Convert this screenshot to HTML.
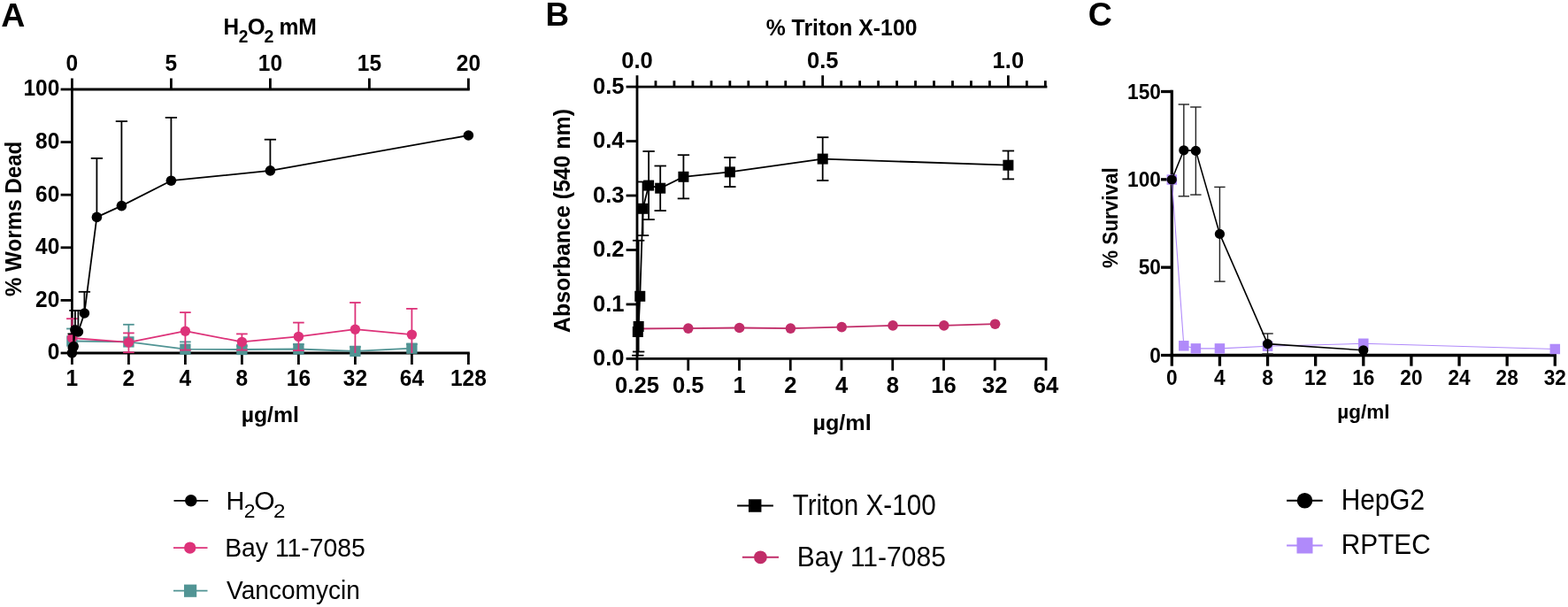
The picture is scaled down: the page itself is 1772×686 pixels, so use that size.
<!DOCTYPE html>
<html><head><meta charset="utf-8"><title>Figure</title>
<style>
html,body{margin:0;padding:0;background:#fff;}
svg{display:block;}
text{font-family:"Liberation Sans",Arial,Helvetica,sans-serif;fill:#000;}
</style></head>
<body>
<svg width="1772" height="686" viewBox="0 0 1772 686">
<rect width="1772" height="686" fill="#fff"/>
<line x1="81.40" y1="101.00" x2="81.40" y2="399.00" stroke="#000" stroke-width="2.8" stroke-linecap="butt"/>
<line x1="80.00" y1="101.00" x2="530.80" y2="101.00" stroke="#000" stroke-width="2.8" stroke-linecap="butt"/>
<line x1="80.00" y1="399.00" x2="530.80" y2="399.00" stroke="#000" stroke-width="2.8" stroke-linecap="butt"/>
<line x1="68.60" y1="399.00" x2="81.40" y2="399.00" stroke="#000" stroke-width="2.8" stroke-linecap="butt"/>
<text transform="translate(67.30,406.30) scale(0.9240,1)" font-size="26.5" font-weight="bold" text-anchor="end">0</text>
<line x1="68.60" y1="339.40" x2="81.40" y2="339.40" stroke="#000" stroke-width="2.8" stroke-linecap="butt"/>
<text transform="translate(67.30,346.70) scale(0.9240,1)" font-size="26.5" font-weight="bold" text-anchor="end">20</text>
<line x1="68.60" y1="279.80" x2="81.40" y2="279.80" stroke="#000" stroke-width="2.8" stroke-linecap="butt"/>
<text transform="translate(67.30,287.10) scale(0.9240,1)" font-size="26.5" font-weight="bold" text-anchor="end">40</text>
<line x1="68.60" y1="220.20" x2="81.40" y2="220.20" stroke="#000" stroke-width="2.8" stroke-linecap="butt"/>
<text transform="translate(67.30,227.50) scale(0.9240,1)" font-size="26.5" font-weight="bold" text-anchor="end">60</text>
<line x1="68.60" y1="160.60" x2="81.40" y2="160.60" stroke="#000" stroke-width="2.8" stroke-linecap="butt"/>
<text transform="translate(67.30,167.90) scale(0.9240,1)" font-size="26.5" font-weight="bold" text-anchor="end">80</text>
<line x1="68.60" y1="101.00" x2="81.40" y2="101.00" stroke="#000" stroke-width="2.8" stroke-linecap="butt"/>
<text transform="translate(67.30,108.30) scale(0.9240,1)" font-size="26.5" font-weight="bold" text-anchor="end">100</text>
<line x1="81.40" y1="88.50" x2="81.40" y2="101.00" stroke="#000" stroke-width="2.8" stroke-linecap="butt"/>
<text transform="translate(81.40,80.20) scale(0.9240,1)" font-size="26.5" font-weight="bold" text-anchor="middle">0</text>
<line x1="193.40" y1="88.50" x2="193.40" y2="101.00" stroke="#000" stroke-width="2.8" stroke-linecap="butt"/>
<text transform="translate(193.40,80.20) scale(0.9240,1)" font-size="26.5" font-weight="bold" text-anchor="middle">5</text>
<line x1="305.40" y1="88.50" x2="305.40" y2="101.00" stroke="#000" stroke-width="2.8" stroke-linecap="butt"/>
<text transform="translate(305.40,80.20) scale(0.9240,1)" font-size="26.5" font-weight="bold" text-anchor="middle">10</text>
<line x1="417.40" y1="88.50" x2="417.40" y2="101.00" stroke="#000" stroke-width="2.8" stroke-linecap="butt"/>
<text transform="translate(417.40,80.20) scale(0.9240,1)" font-size="26.5" font-weight="bold" text-anchor="middle">15</text>
<line x1="529.40" y1="88.50" x2="529.40" y2="101.00" stroke="#000" stroke-width="2.8" stroke-linecap="butt"/>
<text transform="translate(529.40,80.20) scale(0.9240,1)" font-size="26.5" font-weight="bold" text-anchor="middle">20</text>
<line x1="81.40" y1="399.00" x2="81.40" y2="412.00" stroke="#000" stroke-width="2.8" stroke-linecap="butt"/>
<text transform="translate(81.40,436.20) scale(0.9240,1)" font-size="26.5" font-weight="bold" text-anchor="middle">1</text>
<line x1="145.40" y1="399.00" x2="145.40" y2="412.00" stroke="#000" stroke-width="2.8" stroke-linecap="butt"/>
<text transform="translate(145.40,436.20) scale(0.9240,1)" font-size="26.5" font-weight="bold" text-anchor="middle">2</text>
<line x1="209.40" y1="399.00" x2="209.40" y2="412.00" stroke="#000" stroke-width="2.8" stroke-linecap="butt"/>
<text transform="translate(209.40,436.20) scale(0.9240,1)" font-size="26.5" font-weight="bold" text-anchor="middle">4</text>
<line x1="273.40" y1="399.00" x2="273.40" y2="412.00" stroke="#000" stroke-width="2.8" stroke-linecap="butt"/>
<text transform="translate(273.40,436.20) scale(0.9240,1)" font-size="26.5" font-weight="bold" text-anchor="middle">8</text>
<line x1="337.40" y1="399.00" x2="337.40" y2="412.00" stroke="#000" stroke-width="2.8" stroke-linecap="butt"/>
<text transform="translate(337.40,436.20) scale(0.9240,1)" font-size="26.5" font-weight="bold" text-anchor="middle">16</text>
<line x1="401.40" y1="399.00" x2="401.40" y2="412.00" stroke="#000" stroke-width="2.8" stroke-linecap="butt"/>
<text transform="translate(401.40,436.20) scale(0.9240,1)" font-size="26.5" font-weight="bold" text-anchor="middle">32</text>
<line x1="465.40" y1="399.00" x2="465.40" y2="412.00" stroke="#000" stroke-width="2.8" stroke-linecap="butt"/>
<text transform="translate(465.40,436.20) scale(0.9240,1)" font-size="26.5" font-weight="bold" text-anchor="middle">64</text>
<line x1="529.40" y1="399.00" x2="529.40" y2="412.00" stroke="#000" stroke-width="2.8" stroke-linecap="butt"/>
<text transform="translate(529.40,436.20) scale(0.9240,1)" font-size="26.5" font-weight="bold" text-anchor="middle">128</text>
<text transform="translate(305.30,477.00) scale(1.0350,1)" font-size="24" font-weight="bold" text-anchor="middle">µg/ml</text>
<text transform="translate(23.80,335.10) rotate(-90) scale(0.9674,1)" font-size="25.0" font-weight="bold">% Worms Dead</text>
<line x1="720.00" y1="98.10" x2="720.00" y2="405.40" stroke="#000" stroke-width="2.8" stroke-linecap="butt"/>
<line x1="718.60" y1="98.10" x2="1183.40" y2="98.10" stroke="#000" stroke-width="2.8" stroke-linecap="butt"/>
<line x1="718.60" y1="405.40" x2="1183.40" y2="405.40" stroke="#000" stroke-width="2.8" stroke-linecap="butt"/>
<line x1="707.60" y1="405.40" x2="720.00" y2="405.40" stroke="#000" stroke-width="2.8" stroke-linecap="butt"/>
<text transform="translate(705.50,413.30) scale(0.9840,1)" font-size="26.0" font-weight="bold" text-anchor="end">0.0</text>
<line x1="707.60" y1="343.94" x2="720.00" y2="343.94" stroke="#000" stroke-width="2.8" stroke-linecap="butt"/>
<text transform="translate(705.50,351.84) scale(0.9840,1)" font-size="26.0" font-weight="bold" text-anchor="end">0.1</text>
<line x1="707.60" y1="282.48" x2="720.00" y2="282.48" stroke="#000" stroke-width="2.8" stroke-linecap="butt"/>
<text transform="translate(705.50,290.38) scale(0.9840,1)" font-size="26.0" font-weight="bold" text-anchor="end">0.2</text>
<line x1="707.60" y1="221.02" x2="720.00" y2="221.02" stroke="#000" stroke-width="2.8" stroke-linecap="butt"/>
<text transform="translate(705.50,228.92) scale(0.9840,1)" font-size="26.0" font-weight="bold" text-anchor="end">0.3</text>
<line x1="707.60" y1="159.56" x2="720.00" y2="159.56" stroke="#000" stroke-width="2.8" stroke-linecap="butt"/>
<text transform="translate(705.50,167.46) scale(0.9840,1)" font-size="26.0" font-weight="bold" text-anchor="end">0.4</text>
<line x1="707.60" y1="98.10" x2="720.00" y2="98.10" stroke="#000" stroke-width="2.8" stroke-linecap="butt"/>
<text transform="translate(705.50,106.00) scale(0.9840,1)" font-size="26.0" font-weight="bold" text-anchor="end">0.5</text>
<line x1="720.00" y1="85.20" x2="720.00" y2="98.10" stroke="#000" stroke-width="2.8" stroke-linecap="butt"/>
<line x1="740.97" y1="91.20" x2="740.97" y2="98.10" stroke="#000" stroke-width="2.8" stroke-linecap="butt"/>
<line x1="761.94" y1="91.20" x2="761.94" y2="98.10" stroke="#000" stroke-width="2.8" stroke-linecap="butt"/>
<line x1="782.91" y1="91.20" x2="782.91" y2="98.10" stroke="#000" stroke-width="2.8" stroke-linecap="butt"/>
<line x1="803.88" y1="91.20" x2="803.88" y2="98.10" stroke="#000" stroke-width="2.8" stroke-linecap="butt"/>
<line x1="824.85" y1="91.20" x2="824.85" y2="98.10" stroke="#000" stroke-width="2.8" stroke-linecap="butt"/>
<line x1="845.82" y1="91.20" x2="845.82" y2="98.10" stroke="#000" stroke-width="2.8" stroke-linecap="butt"/>
<line x1="866.79" y1="91.20" x2="866.79" y2="98.10" stroke="#000" stroke-width="2.8" stroke-linecap="butt"/>
<line x1="887.76" y1="91.20" x2="887.76" y2="98.10" stroke="#000" stroke-width="2.8" stroke-linecap="butt"/>
<line x1="908.73" y1="91.20" x2="908.73" y2="98.10" stroke="#000" stroke-width="2.8" stroke-linecap="butt"/>
<line x1="929.70" y1="85.20" x2="929.70" y2="98.10" stroke="#000" stroke-width="2.8" stroke-linecap="butt"/>
<line x1="950.67" y1="91.20" x2="950.67" y2="98.10" stroke="#000" stroke-width="2.8" stroke-linecap="butt"/>
<line x1="971.64" y1="91.20" x2="971.64" y2="98.10" stroke="#000" stroke-width="2.8" stroke-linecap="butt"/>
<line x1="992.61" y1="91.20" x2="992.61" y2="98.10" stroke="#000" stroke-width="2.8" stroke-linecap="butt"/>
<line x1="1013.58" y1="91.20" x2="1013.58" y2="98.10" stroke="#000" stroke-width="2.8" stroke-linecap="butt"/>
<line x1="1034.55" y1="91.20" x2="1034.55" y2="98.10" stroke="#000" stroke-width="2.8" stroke-linecap="butt"/>
<line x1="1055.52" y1="91.20" x2="1055.52" y2="98.10" stroke="#000" stroke-width="2.8" stroke-linecap="butt"/>
<line x1="1076.49" y1="91.20" x2="1076.49" y2="98.10" stroke="#000" stroke-width="2.8" stroke-linecap="butt"/>
<line x1="1097.46" y1="91.20" x2="1097.46" y2="98.10" stroke="#000" stroke-width="2.8" stroke-linecap="butt"/>
<line x1="1118.43" y1="91.20" x2="1118.43" y2="98.10" stroke="#000" stroke-width="2.8" stroke-linecap="butt"/>
<line x1="1139.40" y1="85.20" x2="1139.40" y2="98.10" stroke="#000" stroke-width="2.8" stroke-linecap="butt"/>
<line x1="1160.37" y1="91.20" x2="1160.37" y2="98.10" stroke="#000" stroke-width="2.8" stroke-linecap="butt"/>
<line x1="1181.34" y1="91.20" x2="1181.34" y2="98.10" stroke="#000" stroke-width="2.8" stroke-linecap="butt"/>
<text transform="translate(720.00,76.80) scale(0.9840,1)" font-size="26.0" font-weight="bold" text-anchor="middle">0.0</text>
<text transform="translate(929.70,76.80) scale(0.9840,1)" font-size="26.0" font-weight="bold" text-anchor="middle">0.5</text>
<text transform="translate(1139.40,76.80) scale(0.9840,1)" font-size="26.0" font-weight="bold" text-anchor="middle">1.0</text>
<line x1="720.00" y1="405.40" x2="720.00" y2="418.80" stroke="#000" stroke-width="2.8" stroke-linecap="butt"/>
<text transform="translate(720.00,443.60) scale(0.9840,1)" font-size="26.0" font-weight="bold" text-anchor="middle">0.25</text>
<line x1="777.75" y1="405.40" x2="777.75" y2="418.80" stroke="#000" stroke-width="2.8" stroke-linecap="butt"/>
<text transform="translate(777.75,443.60) scale(0.9840,1)" font-size="26.0" font-weight="bold" text-anchor="middle">0.5</text>
<line x1="835.50" y1="405.40" x2="835.50" y2="418.80" stroke="#000" stroke-width="2.8" stroke-linecap="butt"/>
<text transform="translate(835.50,443.60) scale(0.9840,1)" font-size="26.0" font-weight="bold" text-anchor="middle">1</text>
<line x1="893.25" y1="405.40" x2="893.25" y2="418.80" stroke="#000" stroke-width="2.8" stroke-linecap="butt"/>
<text transform="translate(893.25,443.60) scale(0.9840,1)" font-size="26.0" font-weight="bold" text-anchor="middle">2</text>
<line x1="951.00" y1="405.40" x2="951.00" y2="418.80" stroke="#000" stroke-width="2.8" stroke-linecap="butt"/>
<text transform="translate(951.00,443.60) scale(0.9840,1)" font-size="26.0" font-weight="bold" text-anchor="middle">4</text>
<line x1="1008.75" y1="405.40" x2="1008.75" y2="418.80" stroke="#000" stroke-width="2.8" stroke-linecap="butt"/>
<text transform="translate(1008.75,443.60) scale(0.9840,1)" font-size="26.0" font-weight="bold" text-anchor="middle">8</text>
<line x1="1066.50" y1="405.40" x2="1066.50" y2="418.80" stroke="#000" stroke-width="2.8" stroke-linecap="butt"/>
<text transform="translate(1066.50,443.60) scale(0.9840,1)" font-size="26.0" font-weight="bold" text-anchor="middle">16</text>
<line x1="1124.25" y1="405.40" x2="1124.25" y2="418.80" stroke="#000" stroke-width="2.8" stroke-linecap="butt"/>
<text transform="translate(1124.25,443.60) scale(0.9840,1)" font-size="26.0" font-weight="bold" text-anchor="middle">32</text>
<line x1="1182.00" y1="405.40" x2="1182.00" y2="418.80" stroke="#000" stroke-width="2.8" stroke-linecap="butt"/>
<text transform="translate(1182.00,443.60) scale(0.9840,1)" font-size="26.0" font-weight="bold" text-anchor="middle">64</text>
<text transform="translate(951.60,486.20) scale(1.0500,1)" font-size="24" font-weight="bold" text-anchor="middle">µg/ml</text>
<text transform="translate(644.00,376.02) rotate(-90) scale(0.9571,1)" font-size="26.0" font-weight="bold">Absorbance (540 nm)</text>
<line x1="1324.30" y1="101.85" x2="1324.30" y2="403.15" stroke="#000" stroke-width="3.3" stroke-linecap="butt"/>
<line x1="1322.65" y1="401.50" x2="1758.95" y2="401.50" stroke="#000" stroke-width="3.3" stroke-linecap="butt"/>
<line x1="1312.00" y1="401.50" x2="1324.30" y2="401.50" stroke="#000" stroke-width="3.3" stroke-linecap="butt"/>
<text transform="translate(1311.90,409.70) scale(0.9610,1)" font-size="23.6" font-weight="bold" text-anchor="end">0</text>
<line x1="1312.00" y1="302.17" x2="1324.30" y2="302.17" stroke="#000" stroke-width="3.3" stroke-linecap="butt"/>
<text transform="translate(1311.90,310.37) scale(0.9610,1)" font-size="23.6" font-weight="bold" text-anchor="end">50</text>
<line x1="1312.00" y1="202.83" x2="1324.30" y2="202.83" stroke="#000" stroke-width="3.3" stroke-linecap="butt"/>
<text transform="translate(1311.90,211.03) scale(0.9610,1)" font-size="23.6" font-weight="bold" text-anchor="end">100</text>
<line x1="1312.00" y1="103.50" x2="1324.30" y2="103.50" stroke="#000" stroke-width="3.3" stroke-linecap="butt"/>
<text transform="translate(1311.90,111.70) scale(0.9610,1)" font-size="23.6" font-weight="bold" text-anchor="end">150</text>
<line x1="1324.30" y1="401.50" x2="1324.30" y2="413.70" stroke="#000" stroke-width="3.3" stroke-linecap="butt"/>
<text transform="translate(1324.30,435.40) scale(0.9610,1)" font-size="23.6" font-weight="bold" text-anchor="middle">0</text>
<line x1="1378.42" y1="401.50" x2="1378.42" y2="413.70" stroke="#000" stroke-width="3.3" stroke-linecap="butt"/>
<text transform="translate(1378.42,435.40) scale(0.9610,1)" font-size="23.6" font-weight="bold" text-anchor="middle">4</text>
<line x1="1432.55" y1="401.50" x2="1432.55" y2="413.70" stroke="#000" stroke-width="3.3" stroke-linecap="butt"/>
<text transform="translate(1432.55,435.40) scale(0.9610,1)" font-size="23.6" font-weight="bold" text-anchor="middle">8</text>
<line x1="1486.67" y1="401.50" x2="1486.67" y2="413.70" stroke="#000" stroke-width="3.3" stroke-linecap="butt"/>
<text transform="translate(1486.67,435.40) scale(0.9610,1)" font-size="23.6" font-weight="bold" text-anchor="middle">12</text>
<line x1="1540.80" y1="401.50" x2="1540.80" y2="413.70" stroke="#000" stroke-width="3.3" stroke-linecap="butt"/>
<text transform="translate(1540.80,435.40) scale(0.9610,1)" font-size="23.6" font-weight="bold" text-anchor="middle">16</text>
<line x1="1594.92" y1="401.50" x2="1594.92" y2="413.70" stroke="#000" stroke-width="3.3" stroke-linecap="butt"/>
<text transform="translate(1594.92,435.40) scale(0.9610,1)" font-size="23.6" font-weight="bold" text-anchor="middle">20</text>
<line x1="1649.05" y1="401.50" x2="1649.05" y2="413.70" stroke="#000" stroke-width="3.3" stroke-linecap="butt"/>
<text transform="translate(1649.05,435.40) scale(0.9610,1)" font-size="23.6" font-weight="bold" text-anchor="middle">24</text>
<line x1="1703.17" y1="401.50" x2="1703.17" y2="413.70" stroke="#000" stroke-width="3.3" stroke-linecap="butt"/>
<text transform="translate(1703.17,435.40) scale(0.9610,1)" font-size="23.6" font-weight="bold" text-anchor="middle">28</text>
<line x1="1757.30" y1="401.50" x2="1757.30" y2="413.70" stroke="#000" stroke-width="3.3" stroke-linecap="butt"/>
<text transform="translate(1757.30,435.40) scale(0.9610,1)" font-size="23.6" font-weight="bold" text-anchor="middle">32</text>
<text transform="translate(1540.80,472.70)" font-size="22.5" font-weight="bold" text-anchor="middle">µg/ml</text>
<text transform="translate(1263.30,303.06) rotate(-90) scale(0.9466,1)" font-size="23.8" font-weight="bold">% Survival</text>
<text transform="translate(1.36,29.90)" font-size="37.5" font-weight="bold">A</text>
<text transform="translate(252.56,39.30) scale(0.9290,1)" font-size="26.2" font-weight="bold">H</text>
<text transform="translate(269.83,47.80) scale(0.9829,1)" font-size="19.5" font-weight="bold">2</text>
<text transform="translate(279.68,39.30) scale(0.9775,1)" font-size="26.2" font-weight="bold">O</text>
<text transform="translate(298.61,47.80) scale(1.0043,1)" font-size="19.5" font-weight="bold">2</text>
<text transform="translate(315.39,39.30) scale(0.9434,1)" font-size="26.2" font-weight="bold">mM</text>
<line x1="81.40" y1="385.50" x2="81.40" y2="371.50" stroke="#519494" stroke-width="1.8" stroke-linecap="butt"/>
<line x1="75.10" y1="371.50" x2="87.70" y2="371.50" stroke="#519494" stroke-width="1.8" stroke-linecap="butt"/>
<line x1="145.40" y1="386.40" x2="145.40" y2="366.80" stroke="#519494" stroke-width="1.8" stroke-linecap="butt"/>
<line x1="139.10" y1="366.80" x2="151.70" y2="366.80" stroke="#519494" stroke-width="1.8" stroke-linecap="butt"/>
<line x1="209.40" y1="394.70" x2="209.40" y2="386.40" stroke="#519494" stroke-width="1.8" stroke-linecap="butt"/>
<line x1="203.10" y1="386.40" x2="215.70" y2="386.40" stroke="#519494" stroke-width="1.8" stroke-linecap="butt"/>
<line x1="273.40" y1="395.00" x2="273.40" y2="391.00" stroke="#519494" stroke-width="1.8" stroke-linecap="butt"/>
<line x1="267.10" y1="391.00" x2="279.70" y2="391.00" stroke="#519494" stroke-width="1.8" stroke-linecap="butt"/>
<line x1="337.40" y1="394.50" x2="337.40" y2="389.00" stroke="#519494" stroke-width="1.8" stroke-linecap="butt"/>
<line x1="331.10" y1="389.00" x2="343.70" y2="389.00" stroke="#519494" stroke-width="1.8" stroke-linecap="butt"/>
<line x1="401.40" y1="396.90" x2="401.40" y2="392.00" stroke="#519494" stroke-width="1.8" stroke-linecap="butt"/>
<line x1="395.10" y1="392.00" x2="407.70" y2="392.00" stroke="#519494" stroke-width="1.8" stroke-linecap="butt"/>
<line x1="465.40" y1="393.70" x2="465.40" y2="389.00" stroke="#519494" stroke-width="1.8" stroke-linecap="butt"/>
<line x1="459.10" y1="389.00" x2="471.70" y2="389.00" stroke="#519494" stroke-width="1.8" stroke-linecap="butt"/>
<polyline points="81.40,385.50 145.40,386.40 209.40,394.70 273.40,395.00 337.40,394.50 401.40,396.90 465.40,393.70" fill="none" stroke="#519494" stroke-width="1.8" stroke-linejoin="round"/>
<rect x="75.25" y="379.35" width="12.3" height="12.3" fill="#519494"/>
<rect x="139.25" y="380.25" width="12.3" height="12.3" fill="#519494"/>
<rect x="203.25" y="388.55" width="12.3" height="12.3" fill="#519494"/>
<rect x="267.25" y="388.85" width="12.3" height="12.3" fill="#519494"/>
<rect x="331.25" y="388.35" width="12.3" height="12.3" fill="#519494"/>
<rect x="395.25" y="390.75" width="12.3" height="12.3" fill="#519494"/>
<rect x="459.25" y="387.55" width="12.3" height="12.3" fill="#519494"/>
<line x1="81.40" y1="382.00" x2="81.40" y2="360.20" stroke="#DD3279" stroke-width="1.8" stroke-linecap="butt"/>
<line x1="75.10" y1="360.20" x2="87.70" y2="360.20" stroke="#DD3279" stroke-width="1.8" stroke-linecap="butt"/>
<line x1="145.40" y1="386.90" x2="145.40" y2="376.40" stroke="#DD3279" stroke-width="1.8" stroke-linecap="butt"/>
<line x1="139.10" y1="376.40" x2="151.70" y2="376.40" stroke="#DD3279" stroke-width="1.8" stroke-linecap="butt"/>
<line x1="145.40" y1="386.90" x2="145.40" y2="398.20" stroke="#DD3279" stroke-width="1.8" stroke-linecap="butt"/>
<line x1="139.10" y1="398.20" x2="151.70" y2="398.20" stroke="#DD3279" stroke-width="1.8" stroke-linecap="butt"/>
<line x1="209.40" y1="374.20" x2="209.40" y2="353.10" stroke="#DD3279" stroke-width="1.8" stroke-linecap="butt"/>
<line x1="203.10" y1="353.10" x2="215.70" y2="353.10" stroke="#DD3279" stroke-width="1.8" stroke-linecap="butt"/>
<line x1="209.40" y1="374.20" x2="209.40" y2="395.60" stroke="#DD3279" stroke-width="1.8" stroke-linecap="butt"/>
<line x1="203.10" y1="395.60" x2="215.70" y2="395.60" stroke="#DD3279" stroke-width="1.8" stroke-linecap="butt"/>
<line x1="273.40" y1="386.40" x2="273.40" y2="377.40" stroke="#DD3279" stroke-width="1.8" stroke-linecap="butt"/>
<line x1="267.10" y1="377.40" x2="279.70" y2="377.40" stroke="#DD3279" stroke-width="1.8" stroke-linecap="butt"/>
<line x1="273.40" y1="386.40" x2="273.40" y2="395.60" stroke="#DD3279" stroke-width="1.8" stroke-linecap="butt"/>
<line x1="267.10" y1="395.60" x2="279.70" y2="395.60" stroke="#DD3279" stroke-width="1.8" stroke-linecap="butt"/>
<line x1="337.40" y1="380.40" x2="337.40" y2="364.60" stroke="#DD3279" stroke-width="1.8" stroke-linecap="butt"/>
<line x1="331.10" y1="364.60" x2="343.70" y2="364.60" stroke="#DD3279" stroke-width="1.8" stroke-linecap="butt"/>
<line x1="337.40" y1="380.40" x2="337.40" y2="396.10" stroke="#DD3279" stroke-width="1.8" stroke-linecap="butt"/>
<line x1="331.10" y1="396.10" x2="343.70" y2="396.10" stroke="#DD3279" stroke-width="1.8" stroke-linecap="butt"/>
<line x1="401.40" y1="372.20" x2="401.40" y2="342.00" stroke="#DD3279" stroke-width="1.8" stroke-linecap="butt"/>
<line x1="395.10" y1="342.00" x2="407.70" y2="342.00" stroke="#DD3279" stroke-width="1.8" stroke-linecap="butt"/>
<line x1="401.40" y1="372.20" x2="401.40" y2="399.00" stroke="#DD3279" stroke-width="1.8" stroke-linecap="butt"/>
<line x1="465.40" y1="378.10" x2="465.40" y2="348.90" stroke="#DD3279" stroke-width="1.8" stroke-linecap="butt"/>
<line x1="459.10" y1="348.90" x2="471.70" y2="348.90" stroke="#DD3279" stroke-width="1.8" stroke-linecap="butt"/>
<line x1="465.40" y1="378.10" x2="465.40" y2="399.00" stroke="#DD3279" stroke-width="1.8" stroke-linecap="butt"/>
<polyline points="81.40,382.00 145.40,386.90 209.40,374.20 273.40,386.40 337.40,380.40 401.40,372.20 465.40,378.10" fill="none" stroke="#DD3279" stroke-width="1.8" stroke-linejoin="round"/>
<circle cx="81.40" cy="382.00" r="5.7" fill="#DD3279"/>
<circle cx="145.40" cy="386.90" r="5.7" fill="#DD3279"/>
<circle cx="209.40" cy="374.20" r="5.7" fill="#DD3279"/>
<circle cx="273.40" cy="386.40" r="5.7" fill="#DD3279"/>
<circle cx="337.40" cy="380.40" r="5.7" fill="#DD3279"/>
<circle cx="401.40" cy="372.20" r="5.7" fill="#DD3279"/>
<circle cx="465.40" cy="378.10" r="5.7" fill="#DD3279"/>
<line x1="83.15" y1="391.50" x2="83.15" y2="377.40" stroke="#000" stroke-width="1.8" stroke-linecap="butt"/>
<line x1="76.50" y1="377.40" x2="89.80" y2="377.40" stroke="#000" stroke-width="1.8" stroke-linecap="butt"/>
<line x1="84.89" y1="372.70" x2="84.89" y2="350.90" stroke="#000" stroke-width="1.8" stroke-linecap="butt"/>
<line x1="78.24" y1="350.90" x2="91.54" y2="350.90" stroke="#000" stroke-width="1.8" stroke-linecap="butt"/>
<line x1="88.40" y1="375.00" x2="88.40" y2="350.90" stroke="#000" stroke-width="1.8" stroke-linecap="butt"/>
<line x1="81.75" y1="350.90" x2="95.05" y2="350.90" stroke="#000" stroke-width="1.8" stroke-linecap="butt"/>
<line x1="95.40" y1="354.00" x2="95.40" y2="329.80" stroke="#000" stroke-width="1.8" stroke-linecap="butt"/>
<line x1="88.75" y1="329.80" x2="102.05" y2="329.80" stroke="#000" stroke-width="1.8" stroke-linecap="butt"/>
<line x1="109.40" y1="245.40" x2="109.40" y2="178.90" stroke="#000" stroke-width="1.8" stroke-linecap="butt"/>
<line x1="102.75" y1="178.90" x2="116.05" y2="178.90" stroke="#000" stroke-width="1.8" stroke-linecap="butt"/>
<line x1="137.40" y1="232.60" x2="137.40" y2="137.10" stroke="#000" stroke-width="1.8" stroke-linecap="butt"/>
<line x1="130.75" y1="137.10" x2="144.05" y2="137.10" stroke="#000" stroke-width="1.8" stroke-linecap="butt"/>
<line x1="193.40" y1="204.20" x2="193.40" y2="132.90" stroke="#000" stroke-width="1.8" stroke-linecap="butt"/>
<line x1="186.75" y1="132.90" x2="200.05" y2="132.90" stroke="#000" stroke-width="1.8" stroke-linecap="butt"/>
<line x1="305.40" y1="192.90" x2="305.40" y2="157.70" stroke="#000" stroke-width="1.8" stroke-linecap="butt"/>
<line x1="298.75" y1="157.70" x2="312.05" y2="157.70" stroke="#000" stroke-width="1.8" stroke-linecap="butt"/>
<polyline points="81.40,398.80 82.27,393.00 83.15,391.50 84.89,372.70 88.40,375.00 95.40,354.00 109.40,245.40 137.40,232.60 193.40,204.20 305.40,192.90 529.40,153.00" fill="none" stroke="#000" stroke-width="1.8" stroke-linejoin="round"/>
<circle cx="81.40" cy="398.80" r="5.8" fill="#000"/>
<circle cx="82.27" cy="393.00" r="5.8" fill="#000"/>
<circle cx="83.15" cy="391.50" r="5.8" fill="#000"/>
<circle cx="84.89" cy="372.70" r="5.8" fill="#000"/>
<circle cx="88.40" cy="375.00" r="5.8" fill="#000"/>
<circle cx="95.40" cy="354.00" r="5.8" fill="#000"/>
<circle cx="109.40" cy="245.40" r="5.8" fill="#000"/>
<circle cx="137.40" cy="232.60" r="5.8" fill="#000"/>
<circle cx="193.40" cy="204.20" r="5.8" fill="#000"/>
<circle cx="305.40" cy="192.90" r="5.8" fill="#000"/>
<circle cx="529.40" cy="153.00" r="5.8" fill="#000"/>
<text transform="translate(616.51,29.40) scale(0.9836,1)" font-size="37.5" font-weight="bold">B</text>
<text transform="translate(865.68,40.10) scale(0.9462,1)" font-size="26.2" font-weight="bold">% Triton X-100</text>
<polyline points="720.00,371.50 777.80,371.10 835.60,370.50 893.40,371.10 951.20,369.60 1009.00,367.90 1066.80,367.90 1124.60,366.20" fill="none" stroke="#C12D69" stroke-width="1.8" stroke-linejoin="round"/>
<circle cx="777.80" cy="371.10" r="5.8" fill="#C12D69"/>
<circle cx="835.60" cy="370.50" r="5.8" fill="#C12D69"/>
<circle cx="893.40" cy="371.10" r="5.8" fill="#C12D69"/>
<circle cx="951.20" cy="369.60" r="5.8" fill="#C12D69"/>
<circle cx="1009.00" cy="367.90" r="5.8" fill="#C12D69"/>
<circle cx="1066.80" cy="367.90" r="5.8" fill="#C12D69"/>
<circle cx="1124.60" cy="366.20" r="5.8" fill="#C12D69"/>
<line x1="720.82" y1="375.00" x2="720.82" y2="401.70" stroke="#000" stroke-width="1.8" stroke-linecap="butt"/>
<line x1="714.12" y1="401.70" x2="727.52" y2="401.70" stroke="#000" stroke-width="1.8" stroke-linecap="butt"/>
<line x1="721.64" y1="369.00" x2="721.64" y2="271.80" stroke="#000" stroke-width="1.8" stroke-linecap="butt"/>
<line x1="714.94" y1="271.80" x2="728.34" y2="271.80" stroke="#000" stroke-width="1.8" stroke-linecap="butt"/>
<line x1="721.64" y1="369.00" x2="721.64" y2="397.50" stroke="#000" stroke-width="1.8" stroke-linecap="butt"/>
<line x1="714.94" y1="397.50" x2="728.34" y2="397.50" stroke="#000" stroke-width="1.8" stroke-linecap="butt"/>
<line x1="726.54" y1="235.80" x2="726.54" y2="205.50" stroke="#000" stroke-width="1.8" stroke-linecap="butt"/>
<line x1="719.84" y1="205.50" x2="733.24" y2="205.50" stroke="#000" stroke-width="1.8" stroke-linecap="butt"/>
<line x1="726.54" y1="235.80" x2="726.54" y2="266.10" stroke="#000" stroke-width="1.8" stroke-linecap="butt"/>
<line x1="719.84" y1="266.10" x2="733.24" y2="266.10" stroke="#000" stroke-width="1.8" stroke-linecap="butt"/>
<line x1="733.11" y1="209.60" x2="733.11" y2="171.00" stroke="#000" stroke-width="1.8" stroke-linecap="butt"/>
<line x1="726.41" y1="171.00" x2="739.81" y2="171.00" stroke="#000" stroke-width="1.8" stroke-linecap="butt"/>
<line x1="733.11" y1="209.60" x2="733.11" y2="248.10" stroke="#000" stroke-width="1.8" stroke-linecap="butt"/>
<line x1="726.41" y1="248.10" x2="739.81" y2="248.10" stroke="#000" stroke-width="1.8" stroke-linecap="butt"/>
<line x1="746.21" y1="212.70" x2="746.21" y2="187.50" stroke="#000" stroke-width="1.8" stroke-linecap="butt"/>
<line x1="739.51" y1="187.50" x2="752.91" y2="187.50" stroke="#000" stroke-width="1.8" stroke-linecap="butt"/>
<line x1="746.21" y1="212.70" x2="746.21" y2="238.10" stroke="#000" stroke-width="1.8" stroke-linecap="butt"/>
<line x1="739.51" y1="238.10" x2="752.91" y2="238.10" stroke="#000" stroke-width="1.8" stroke-linecap="butt"/>
<line x1="772.42" y1="199.80" x2="772.42" y2="175.20" stroke="#000" stroke-width="1.8" stroke-linecap="butt"/>
<line x1="765.72" y1="175.20" x2="779.12" y2="175.20" stroke="#000" stroke-width="1.8" stroke-linecap="butt"/>
<line x1="772.42" y1="199.80" x2="772.42" y2="224.40" stroke="#000" stroke-width="1.8" stroke-linecap="butt"/>
<line x1="765.72" y1="224.40" x2="779.12" y2="224.40" stroke="#000" stroke-width="1.8" stroke-linecap="butt"/>
<line x1="824.85" y1="194.40" x2="824.85" y2="178.00" stroke="#000" stroke-width="1.8" stroke-linecap="butt"/>
<line x1="818.15" y1="178.00" x2="831.55" y2="178.00" stroke="#000" stroke-width="1.8" stroke-linecap="butt"/>
<line x1="824.85" y1="194.40" x2="824.85" y2="211.10" stroke="#000" stroke-width="1.8" stroke-linecap="butt"/>
<line x1="818.15" y1="211.10" x2="831.55" y2="211.10" stroke="#000" stroke-width="1.8" stroke-linecap="butt"/>
<line x1="929.70" y1="179.60" x2="929.70" y2="155.20" stroke="#000" stroke-width="1.8" stroke-linecap="butt"/>
<line x1="923.00" y1="155.20" x2="936.40" y2="155.20" stroke="#000" stroke-width="1.8" stroke-linecap="butt"/>
<line x1="929.70" y1="179.60" x2="929.70" y2="204.00" stroke="#000" stroke-width="1.8" stroke-linecap="butt"/>
<line x1="923.00" y1="204.00" x2="936.40" y2="204.00" stroke="#000" stroke-width="1.8" stroke-linecap="butt"/>
<line x1="1139.40" y1="186.70" x2="1139.40" y2="170.50" stroke="#000" stroke-width="1.8" stroke-linecap="butt"/>
<line x1="1132.70" y1="170.50" x2="1146.10" y2="170.50" stroke="#000" stroke-width="1.8" stroke-linecap="butt"/>
<line x1="1139.40" y1="186.70" x2="1139.40" y2="202.40" stroke="#000" stroke-width="1.8" stroke-linecap="butt"/>
<line x1="1132.70" y1="202.40" x2="1146.10" y2="202.40" stroke="#000" stroke-width="1.8" stroke-linecap="butt"/>
<polyline points="720.82,375.00 721.64,369.00 723.27,334.80 726.54,235.80 733.11,209.60 746.21,212.70 772.42,199.80 824.85,194.40 929.70,179.60 1139.40,186.70" fill="none" stroke="#000" stroke-width="1.8" stroke-linejoin="round"/>
<rect x="714.82" y="369.00" width="12.0" height="12.0" fill="#000"/>
<rect x="715.64" y="363.00" width="12.0" height="12.0" fill="#000"/>
<rect x="717.27" y="328.80" width="12.0" height="12.0" fill="#000"/>
<rect x="720.54" y="229.80" width="12.0" height="12.0" fill="#000"/>
<rect x="727.11" y="203.60" width="12.0" height="12.0" fill="#000"/>
<rect x="740.21" y="206.70" width="12.0" height="12.0" fill="#000"/>
<rect x="766.42" y="193.80" width="12.0" height="12.0" fill="#000"/>
<rect x="818.85" y="188.40" width="12.0" height="12.0" fill="#000"/>
<rect x="923.70" y="173.60" width="12.0" height="12.0" fill="#000"/>
<rect x="1133.40" y="180.70" width="12.0" height="12.0" fill="#000"/>
<text transform="translate(1229.70,29.30)" font-size="37.5" font-weight="bold">C</text>
<polyline points="1324.30,203.00 1337.83,390.80 1351.36,393.90 1378.42,393.90 1432.55,391.20 1540.80,388.30 1757.30,394.50" fill="none" stroke="#B08AFA" stroke-width="1.1" stroke-linejoin="round"/>
<rect x="1318.55" y="197.25" width="11.5" height="11.5" fill="#B08AFA"/>
<rect x="1332.08" y="385.05" width="11.5" height="11.5" fill="#B08AFA"/>
<rect x="1345.61" y="388.15" width="11.5" height="11.5" fill="#B08AFA"/>
<rect x="1372.67" y="388.15" width="11.5" height="11.5" fill="#B08AFA"/>
<rect x="1426.80" y="385.45" width="11.5" height="11.5" fill="#B08AFA"/>
<rect x="1535.05" y="382.55" width="11.5" height="11.5" fill="#B08AFA"/>
<rect x="1751.55" y="388.75" width="11.5" height="11.5" fill="#B08AFA"/>
<line x1="1337.83" y1="169.80" x2="1337.83" y2="118.00" stroke="#222" stroke-width="1.4" stroke-linecap="butt"/>
<line x1="1331.63" y1="118.00" x2="1344.03" y2="118.00" stroke="#222" stroke-width="1.4" stroke-linecap="butt"/>
<line x1="1337.83" y1="169.80" x2="1337.83" y2="221.80" stroke="#222" stroke-width="1.4" stroke-linecap="butt"/>
<line x1="1331.63" y1="221.80" x2="1344.03" y2="221.80" stroke="#222" stroke-width="1.4" stroke-linecap="butt"/>
<line x1="1351.36" y1="170.40" x2="1351.36" y2="121.00" stroke="#222" stroke-width="1.4" stroke-linecap="butt"/>
<line x1="1345.16" y1="121.00" x2="1357.56" y2="121.00" stroke="#222" stroke-width="1.4" stroke-linecap="butt"/>
<line x1="1351.36" y1="170.40" x2="1351.36" y2="220.10" stroke="#222" stroke-width="1.4" stroke-linecap="butt"/>
<line x1="1345.16" y1="220.10" x2="1357.56" y2="220.10" stroke="#222" stroke-width="1.4" stroke-linecap="butt"/>
<line x1="1378.42" y1="264.40" x2="1378.42" y2="211.40" stroke="#222" stroke-width="1.4" stroke-linecap="butt"/>
<line x1="1372.22" y1="211.40" x2="1384.62" y2="211.40" stroke="#222" stroke-width="1.4" stroke-linecap="butt"/>
<line x1="1378.42" y1="264.40" x2="1378.42" y2="318.10" stroke="#222" stroke-width="1.4" stroke-linecap="butt"/>
<line x1="1372.22" y1="318.10" x2="1384.62" y2="318.10" stroke="#222" stroke-width="1.4" stroke-linecap="butt"/>
<line x1="1432.55" y1="388.60" x2="1432.55" y2="377.00" stroke="#222" stroke-width="1.4" stroke-linecap="butt"/>
<line x1="1426.35" y1="377.00" x2="1438.75" y2="377.00" stroke="#222" stroke-width="1.4" stroke-linecap="butt"/>
<line x1="1432.55" y1="388.60" x2="1432.55" y2="400.00" stroke="#222" stroke-width="1.4" stroke-linecap="butt"/>
<line x1="1426.35" y1="400.00" x2="1438.75" y2="400.00" stroke="#222" stroke-width="1.4" stroke-linecap="butt"/>
<polyline points="1324.30,203.00 1337.83,169.80 1351.36,170.40 1378.42,264.40 1432.55,388.60 1540.80,395.80" fill="none" stroke="#000" stroke-width="1.6" stroke-linejoin="round"/>
<circle cx="1324.30" cy="203.00" r="5.6" fill="#000"/>
<circle cx="1337.83" cy="169.80" r="5.6" fill="#000"/>
<circle cx="1351.36" cy="170.40" r="5.6" fill="#000"/>
<circle cx="1378.42" cy="264.40" r="5.6" fill="#000"/>
<circle cx="1432.55" cy="388.60" r="5.6" fill="#000"/>
<circle cx="1540.80" cy="395.80" r="5.6" fill="#000"/>
<line x1="196.50" y1="565.90" x2="235.20" y2="565.90" stroke="#000" stroke-width="1.8" stroke-linecap="butt"/>
<circle cx="215.80" cy="565.80" r="6.8" fill="#000"/>
<text transform="translate(255.42,575.80) scale(0.9789,1)" font-size="29.5">H</text>
<text transform="translate(275.76,584.90) scale(1.0114,1)" font-size="22.6">2</text>
<text transform="translate(287.37,575.80) scale(1.0182,1)" font-size="29.5">O</text>
<text transform="translate(308.99,584.90) scale(1.0697,1)" font-size="22.6">2</text>
<line x1="196.00" y1="619.10" x2="234.50" y2="619.10" stroke="#DD3279" stroke-width="1.8" stroke-linecap="butt"/>
<circle cx="214.70" cy="619.10" r="6.7" fill="#DD3279"/>
<text transform="translate(254.16,628.60) scale(0.9746,1)" font-size="29.1">Bay 11-7085</text>
<line x1="196.00" y1="667.70" x2="234.50" y2="667.70" stroke="#519494" stroke-width="1.8" stroke-linecap="butt"/>
<rect x="208.00" y="660.60" width="14.2" height="14.2" fill="#519494"/>
<text transform="translate(256.06,677.20) scale(0.9650,1)" font-size="29.1">Vancomycin</text>
<line x1="833.10" y1="571.50" x2="873.90" y2="571.50" stroke="#000" stroke-width="2.0" stroke-linecap="butt"/>
<rect x="845.95" y="564.25" width="14.5" height="14.5" fill="#000"/>
<text transform="translate(895.63,581.70) scale(0.9070,1)" font-size="32.7">Triton X-100</text>
<line x1="838.90" y1="629.80" x2="880.00" y2="629.80" stroke="#C12D69" stroke-width="2.0" stroke-linecap="butt"/>
<circle cx="859.40" cy="629.80" r="7.4" fill="#C12D69"/>
<text transform="translate(900.82,639.70) scale(0.9388,1)" font-size="32.0">Bay 11-7085</text>
<line x1="1454.10" y1="565.80" x2="1494.70" y2="565.80" stroke="#000" stroke-width="2.0" stroke-linecap="butt"/>
<circle cx="1474.50" cy="565.80" r="8.8" fill="#000"/>
<text transform="translate(1515.64,575.80) scale(0.9203,1)" font-size="32.4">HepG2</text>
<line x1="1454.10" y1="616.50" x2="1494.70" y2="616.50" stroke="#B08AFA" stroke-width="2.0" stroke-linecap="butt"/>
<rect x="1465.50" y="607.50" width="18.0" height="18.0" fill="#B08AFA"/>
<text transform="translate(1515.64,626.30) scale(0.9325,1)" font-size="32.0">RPTEC</text>
</svg>
</body></html>
